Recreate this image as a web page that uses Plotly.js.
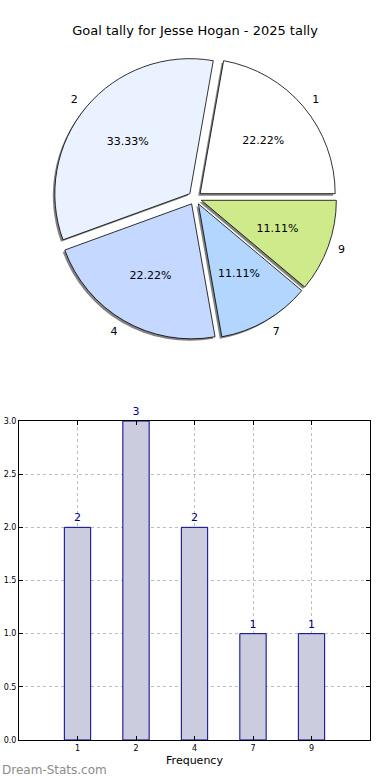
<!DOCTYPE html>
<html>
<head>
<meta charset="utf-8">
<script src="https://cdn.plot.ly/plotly-3.0.1.min.js"></script>
<style>html,body{margin:0;padding:0;background:#fff;}#chart{width:390px;height:780px;}</style>
</head>
<body>
<div id="chart"></div>
<script>
const categories = ["1", "2", "4", "7", "9"];
const counts = [2, 3, 2, 1, 1];
const sliceColors = ["#ffffff", "#eaf1ff", "#c5d8ff", "#b3d6ff", "#cfea8b"];
const yTicks = [0, 0.5, 1.0, 1.5, 2.0, 2.5, 3.0];

const W = 390, H = 780;
const cx = 195, cy = 198;
const R = 135;            // pie radius in px
const PULL = 0.05;        // explode fraction
const font = "DejaVu Sans, sans-serif";

// domain for a pie of radius r (px) whose pull distance matches the main pie
function dom(r, dx, dy) {
  const half = r + PULL * R;
  return {
    x: [(cx - half + dx) / W, (cx + half + dx) / W],
    y: [1 - (cy + half + dy) / H, 1 - (cy - half + dy) / H]
  };
}
function pullsFor(r) { return categories.map(() => PULL * R / r); }
const clear = categories.map(() => "rgba(0,0,0,0)");

function basePie(r, dx, dy) {
  return {
    type: "pie", labels: categories, values: counts, sort: false,
    direction: "counterclockwise", rotation: 10, pull: pullsFor(r),
    domain: dom(r, dx, dy), showlegend: false, hoverinfo: "skip"
  };
}

// shadow
const shadow = Object.assign(basePie(R, -2, 2), {
  marker: {colors: categories.map(() => "rgba(100,100,100,0.8)"), line: {width: 0}},
  textinfo: "none"
});
// category labels outside (transparent carrier pie, a bit larger)
const labelPie = Object.assign(basePie(R + 7, 0, 0), {
  marker: {colors: clear, line: {width: 0}},
  textinfo: "label", textposition: "outside",
  textfont: {family: font, size: 11, color: "#000"}
});
// main pie, shows percent for the 80-degree slices
const pie = Object.assign(basePie(R, 0, 0), {
  marker: {colors: sliceColors, line: {color: "#000", width: 0.8}},
  texttemplate: "%{percent:.2%}",
  textposition: ["inside", "none", "inside", "none", "none"],
  insidetextorientation: "horizontal",
  textfont: {family: font, size: 11, color: "#000"}
});
// percent text carriers so every label sits at ~0.6 radius
const pctBig = Object.assign(basePie(R * 1.12, 0, 0), {
  marker: {colors: clear, line: {width: 0}},
  texttemplate: "%{percent:.2%}",
  textposition: ["none", "inside", "none", "none", "none"],
  insidetextorientation: "horizontal",
  textfont: {family: font, size: 11, color: "#000"}
});
const pctSmall = Object.assign(basePie(R * 0.805, 0, 0), {
  marker: {colors: clear, line: {width: 0}},
  texttemplate: "%{percent:.2%}",
  textposition: ["none", "none", "none", "inside", "inside"],
  insidetextorientation: "horizontal",
  textfont: {family: font, size: 11, color: "#000"}
});

const bars = {
  type: "bar", x: categories, y: counts, xaxis: "x", yaxis: "y",
  width: 0.45,
  marker: {color: "#ccccdf", line: {color: "#00008b", width: 1}},
  text: counts.map(String), textposition: "outside", cliponaxis: false,
  textfont: {family: font, size: 11, color: "#00008b"},
  showlegend: false
};

const layout = {
  width: W, height: H,
  margin: {l: 0, r: 0, t: 0, b: 0},
  paper_bgcolor: "#fff", plot_bgcolor: "#fff",
  font: {family: font, color: "#000"},
  title: {text: "Goal tally for Jesse Hogan - 2025 tally", x: 0.5, xanchor: "center",
          y: 1 - 30 / H, yanchor: "middle", font: {family: font, size: 13, color: "#000"}},
  xaxis: {
    domain: [19 / W, 370 / W], anchor: "y", type: "category", range: [-1, 5],
    showline: true, linecolor: "#000", linewidth: 1, mirror: "allticks",
    ticks: "inside", ticklen: 4, tickcolor: "#000",
    showgrid: true, gridcolor: "#bdbdbd", griddash: "dot", gridwidth: 1,
    tickfont: {family: font, size: 8, color: "#000"},
    title: {text: "Frequency", font: {family: font, size: 11, color: "#000"}, standoff: 4},
    zeroline: false, fixedrange: true
  },
  yaxis: {
    domain: [1 - 740 / H, 1 - 421 / H], anchor: "x", range: [0, 3],
    tickvals: yTicks, tickformat: ".1f",
    showline: true, linecolor: "#000", linewidth: 1, mirror: "allticks",
    ticks: "inside", ticklen: 4, tickcolor: "#000",
    showgrid: true, gridcolor: "#bdbdbd", griddash: "dot", gridwidth: 1,
    tickfont: {family: font, size: 8, color: "#000"},
    zeroline: false, fixedrange: true
  },
  annotations: [{
    text: "Dream-Stats.com", xref: "paper", yref: "paper",
    x: 0, xanchor: "left", y: 1 - 770 / H, yanchor: "middle", showarrow: false,
    font: {family: font, size: 12, color: "#8c8c8c"}
  }]
};

Plotly.newPlot("chart", [shadow, labelPie, pie, pctBig, pctSmall, bars], layout,
  {displayModeBar: false, staticPlot: true});
</script>
</body>
</html>
